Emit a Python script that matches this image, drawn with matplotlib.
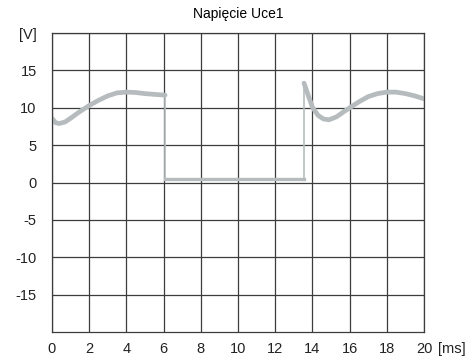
import numpy as np
import matplotlib.pyplot as plt

plt.rcParams['font.family'] = ['Liberation Sans', 'DejaVu Sans']

# --- dane ---
# odcinek 1: tranzystor wylaczony (przed 6 ms)
t1 = [0.0, 0.2, 0.4, 0.7, 1.0, 1.5, 2.0, 2.5, 3.0, 3.5, 4.0, 4.5, 5.0, 5.5, 6.08]
u1 = [8.6, 8.0, 7.9, 8.1, 8.6, 9.5, 10.3, 11.0, 11.6, 12.0, 12.1, 12.05, 11.9, 11.8, 11.7]
# odcinek 2: nasycenie
t2 = [6.08, 13.55]
u2 = [0.5, 0.5]
# odcinek 3: po wylaczeniu (od 13.55 ms)
t3 = [13.55, 13.8, 14.0, 14.3, 14.6, 14.9, 15.3, 15.7, 16.0, 16.5, 17.0, 17.5, 18.0, 18.5, 19.0, 19.5, 20.0]
u3 = [13.3, 11.5, 10.1, 9.0, 8.5, 8.4, 8.8, 9.5, 10.0, 10.8, 11.5, 11.9, 12.1, 12.1, 11.9, 11.6, 11.2]

x_ticks = np.arange(0, 21, 2)
y_ticks = np.arange(-15, 21, 5)
y_labels = [str(v) for v in y_ticks[:-1]] + ['[V]']

fig = plt.figure(figsize=(4.68, 3.6), dpi=100)
ax = fig.add_axes([0.111, 0.078, 0.795, 0.83])

kolor = '#b6bcbe'
# skoki (cienkie)
ax.plot([t1[-1], t2[0]], [u1[-1], u2[0]], color=kolor, lw=1.2)
ax.plot([t2[-1], t3[0]], [u2[-1], u3[0]], color=kolor, lw=1.2)
# przebiegi (grube)
ax.plot(t1, u1, color=kolor, lw=3.4, solid_capstyle='round', solid_joinstyle='round')
ax.plot(t2, u2, color=kolor, lw=2.4)
ax.plot(t3, u3, color=kolor, lw=3.4, solid_capstyle='round', solid_joinstyle='round')

ax.set_xlim(0, 20)
ax.set_ylim(-20, 20)
ax.set_xticks(x_ticks)
ax.set_yticks(y_ticks)
ax.set_yticklabels(y_labels)
ax.grid(True, color='#3c3c3c', lw=0.9)
ax.set_axisbelow(True)
for s in ax.spines.values():
    s.set_color('#3c3c3c')
    s.set_linewidth(0.9)
ax.tick_params(length=0, labelsize=10.5, pad=7, colors='#222222')
ax.tick_params(axis='y', pad=11)

ax.set_title('Napięcie Uce1', fontsize=10, pad=11)
ax.annotate('[ms]', xy=(20.75, -20), xytext=(0, -7), textcoords='offset points',
            fontsize=10.5, va='top', ha='left', color='#222222', annotation_clip=False)

fig.savefig('out.png', dpi=100)
